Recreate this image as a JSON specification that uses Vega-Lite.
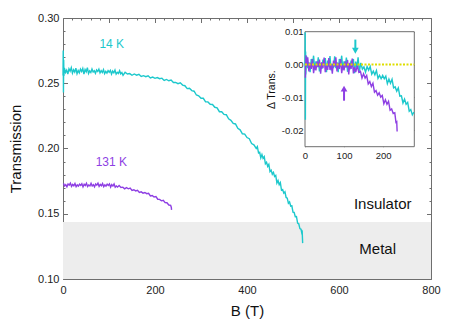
{
"$schema": "https://vega.github.io/schema/vega-lite/v6.json",
"width": 368, "height": 261,
"autosize": "none",
"padding": {"left": 63, "top": 18, "right": 32, "bottom": 46},
"background": "white",
"config": {
  "font": "Liberation Sans",
  "view": {"stroke": "#6e6e6e", "strokeWidth": 1},
  "axis": {"domain": false, "grid": false, "tickColor": "#6e6e6e", "tickWidth": 1, "labelColor": "#222222", "labelFontSize": 11, "titleFontSize": 15, "titleFontWeight": "normal", "titleColor": "#111111", "labelFlush": false, "labelOverlap": false}
},
"datasets": {
  "c14": [
    {"b":0,"t":0.256},{"b":0.5,"t":0.275},{"b":1,"t":0.243},{"b":1.5,"t":0.268},{"b":2,"t":0.2555},
    {"b":3,"t":0.2618},{"b":5.5,"t":0.2583},{"b":8,"t":0.26},{"b":10.5,"t":0.257},{"b":13,"t":0.261},{"b":15.5,"t":0.2593},{"b":18,"t":0.262},{"b":20.5,"t":0.2578},{"b":23,"t":0.2603},{"b":25.5,"t":0.2585},{"b":28,"t":0.2615},{"b":30.5,"t":0.2573},{"b":33,"t":0.2598},{"b":35.5,"t":0.258},{"b":38,"t":0.2608},{"b":40.5,"t":0.259},{"b":43,"t":0.2613},{"b":45.5,"t":0.257},{"b":48,"t":0.2605},{"b":50.5,"t":0.2588},{"b":53,"t":0.2619},{"b":55.5,"t":0.2575},{"b":58,"t":0.2595},{"b":60.5,"t":0.2583},
    {"b":63,"t":0.2609},{"b":65.5,"t":0.2586},{"b":68,"t":0.2596},{"b":70.5,"t":0.2576},{"b":73,"t":0.2602},{"b":75.5,"t":0.259},{"b":78,"t":0.2608},{"b":80.5,"t":0.2579},{"b":83,"t":0.2596},{"b":85.5,"t":0.2583},{"b":88,"t":0.2604},{"b":90.5,"t":0.2574},{"b":93,"t":0.2591},{"b":95.5,"t":0.2578},{"b":98,"t":0.2597},{"b":100.5,"t":0.2585},{"b":103,"t":0.2599},{"b":105.5,"t":0.257},{"b":108,"t":0.2593},{"b":110.5,"t":0.258},{"b":113,"t":0.2601},{"b":115.5,"t":0.257},{"b":118,"t":0.2584},{"b":120.5,"t":0.2575},{"b":123,"t":0.2596},{"b":125.5,"t":0.2572},{"b":128,"t":0.2582},{"b":130.5,"t":0.2561},
    {"b":135,"t":0.2584},{"b":140,"t":0.2571},{"b":145,"t":0.2574},{"b":150,"t":0.2561},{"b":155,"t":0.2571},{"b":160,"t":0.2562},{"b":165,"t":0.2569},{"b":170,"t":0.2552},{"b":175,"t":0.2558},{"b":180,"t":0.255},{"b":185,"t":0.2557},{"b":190,"t":0.2541},{"b":195,"t":0.2547},{"b":200,"t":0.2538},{"b":205,"t":0.2544},{"b":210,"t":0.2535},{"b":215,"t":0.2539},{"b":220,"t":0.2522},{"b":225,"t":0.2529},{"b":230,"t":0.2519},{"b":235,"t":0.2525},{"b":240,"t":0.2506},{"b":245,"t":0.2507},{"b":250,"t":0.2497},{"b":255,"t":0.2503},{"b":260,"t":0.2486},{"b":265,"t":0.2481},{"b":270,"t":0.2459},{"b":275,"t":0.2461},{"b":280,"t":0.2444},{"b":285,"t":0.2439},{"b":290,"t":0.241},{"b":295,"t":0.2404},{"b":300,"t":0.2385},
    {"b":305,"t":0.2385},{"b":310,"t":0.2358},{"b":315,"t":0.2357},{"b":320,"t":0.2339},{"b":325,"t":0.2337},{"b":330,"t":0.2316},{"b":335,"t":0.2312},{"b":340,"t":0.2282},{"b":345,"t":0.2282},{"b":350,"t":0.2261},{"b":355,"t":0.2259},{"b":360,"t":0.2227},{"b":365,"t":0.2216},{"b":370,"t":0.2193},{"b":375,"t":0.2188},{"b":380,"t":0.2155},{"b":385,"t":0.2143},{"b":390,"t":0.2113},{"b":395,"t":0.211},{"b":400,"t":0.2084},{"b":405,"t":0.2075},{"b":410,"t":0.2038},{"b":415,"t":0.2028},{"b":420,"t":0.2001},
    {"b":422.5,"t":0.2015},{"b":425,"t":0.1967},{"b":427.5,"t":0.1971},{"b":430,"t":0.1928},{"b":432.5,"t":0.1954},{"b":435,"t":0.1924},{"b":437.5,"t":0.1938},{"b":440,"t":0.1883},{"b":442.5,"t":0.1894},{"b":445,"t":0.1863},{"b":447.5,"t":0.1879},{"b":450,"t":0.1823},{"b":452.5,"t":0.1834},{"b":455,"t":0.1803},{"b":457.5,"t":0.1817},{"b":460,"t":0.1785},{"b":462.5,"t":0.1793},{"b":465,"t":0.1735},{"b":467.5,"t":0.1755},{"b":470,"t":0.1723},{"b":472.5,"t":0.1739},{"b":475,"t":0.168},{"b":477.5,"t":0.1685},{"b":480,"t":0.1658},{"b":482.5,"t":0.1668},{"b":485,"t":0.1625},{"b":487.5,"t":0.162},{"b":490,"t":0.158},{"b":492.5,"t":0.159},{"b":495,"t":0.1559},{"b":497.5,"t":0.1561},{"b":500,"t":0.1512},{"b":502.5,"t":0.151},{"b":505,"t":0.1478},{"b":507.5,"t":0.1479},{"b":510,"t":0.1429},{"b":512.5,"t":0.1423},{"b":515,"t":0.1386},{"b":517.5,"t":0.1381},{"b":519,"t":0.1354},{"b":520,"t":0.136},{"b":521,"t":0.1275}
  ],
  "c131": [
    {"b":1,"t":0.1733},{"b":3.5,"t":0.1713},{"b":6,"t":0.1723},{"b":8.5,"t":0.1706},{"b":11,"t":0.1728},{"b":13.5,"t":0.1719},{"b":16,"t":0.1734},{"b":18.5,"t":0.171},{"b":21,"t":0.1724},{"b":23.5,"t":0.1714},{"b":26,"t":0.1731},{"b":28.5,"t":0.1707},{"b":31,"t":0.1721},{"b":33.5,"t":0.1712},{"b":36,"t":0.1727},{"b":38.5,"t":0.1717},{"b":41,"t":0.173},{"b":43.5,"t":0.1706},{"b":46,"t":0.1726},{"b":48.5,"t":0.1716},{"b":51,"t":0.1733},{"b":53.5,"t":0.1709},{"b":56,"t":0.172},{"b":58.5,"t":0.1713},{"b":61,"t":0.1733},{"b":63.5,"t":0.1713},{"b":66,"t":0.1723},{"b":68.5,"t":0.1706},{"b":71,"t":0.1728},{"b":73.5,"t":0.1719},{"b":76,"t":0.1734},{"b":78.5,"t":0.171},{"b":81,"t":0.1724},{"b":83.5,"t":0.1714},{"b":86,"t":0.1731},{"b":88.5,"t":0.1707},{"b":91,"t":0.1721},{"b":93.5,"t":0.1712},{"b":96,"t":0.1727},{"b":98.5,"t":0.1717},{"b":101,"t":0.1729},{"b":103.5,"t":0.1704},{"b":106,"t":0.1723},{"b":108.5,"t":0.1712},{"b":111,"t":0.1728},{"b":113.5,"t":0.1703},{"b":116,"t":0.1712},{"b":118.5,"t":0.1704},
    {"b":122,"t":0.1716},{"b":126,"t":0.1702},{"b":130,"t":0.1704},{"b":134,"t":0.1691},{"b":138,"t":0.17},{"b":142,"t":0.1691},{"b":146,"t":0.1696},{"b":150,"t":0.1679},{"b":154,"t":0.1684},{"b":158,"t":0.1675},{"b":162,"t":0.168},{"b":166,"t":0.1663},{"b":170,"t":0.1668},{"b":174,"t":0.1658},{"b":178,"t":0.1663},{"b":182,"t":0.1654},{"b":186,"t":0.1657},{"b":190,"t":0.1636},{"b":194,"t":0.164},{"b":198,"t":0.1628},{"b":202,"t":0.1631},{"b":206,"t":0.1611},{"b":210,"t":0.161},{"b":214,"t":0.1599},{"b":218,"t":0.1603},{"b":222,"t":0.1585},{"b":226,"t":0.1584},{"b":230,"t":0.1567},{"b":234,"t":0.1565},{"b":235.5,"t":0.1548},{"b":236,"t":0.153}
  ],
  "i14": [
    {"d":0,"v":0},{"d":0.5,"v":0.0098},{"d":1,"v":-0.0168},{"d":1.5,"v":0.004},{"d":2,"v":-0.003},
    {"d":4,"v":0.0025},{"d":7,"v":-0.0011},{"d":10,"v":0.0007},{"d":13,"v":-0.0023},{"d":16,"v":0.0017},{"d":19,"v":-0.0001},{"d":22,"v":0.0027},{"d":25,"v":-0.0016},{"d":28,"v":0.001},{"d":31,"v":-0.0008},{"d":34,"v":0.0022},{"d":37,"v":-0.0021},{"d":40,"v":0.0005},{"d":43,"v":-0.0013},{"d":46,"v":0.0015},{"d":49,"v":-0.0003},{"d":52,"v":0.002},{"d":55,"v":-0.0023},{"d":58,"v":0.0012},{"d":61,"v":-0.0006},{"d":64,"v":0.0026},{"d":67,"v":-0.0018},{"d":70,"v":0.0002},{"d":73,"v":-0.0011},{"d":76,"v":0.0025},{"d":79,"v":-0.0011},{"d":82,"v":0.0007},{"d":85,"v":-0.0023},{"d":88,"v":0.0017},{"d":91,"v":-0.0001},{"d":94,"v":0.0027},{"d":97,"v":-0.0016},{"d":100,"v":0.001},{"d":103,"v":-0.0009},{"d":106,"v":0.0021},{"d":109,"v":-0.0022},{"d":112,"v":0.0003},{"d":115,"v":-0.0015},{"d":118,"v":0.0012},{"d":121,"v":-0.0006},{"d":124,"v":0.0017},{"d":127,"v":-0.0026},{"d":130,"v":0.0009},{"d":133,"v":-0.0009},{"d":136,"v":0.0022},{"d":139,"v":-0.0022},
    {"d":143,"v":0.0005},{"d":147,"v":-0.0014},{"d":151,"v":-0.0007},{"d":155,"v":-0.0023},{"d":159,"v":-0.0006},{"d":163,"v":-0.0017},{"d":167,"v":-0.0006},{"d":171,"v":-0.0029},{"d":175,"v":-0.002},{"d":179,"v":-0.0031},{"d":183,"v":-0.0018},{"d":187,"v":-0.0042},{"d":191,"v":-0.0033},{"d":195,"v":-0.0043},{"d":199,"v":-0.0033},{"d":203,"v":-0.0043},{"d":207,"v":-0.0035},{"d":211,"v":-0.0058},{"d":215,"v":-0.0044},{"d":219,"v":-0.0057},{"d":223,"v":-0.0045},{"d":227,"v":-0.0071},{"d":231,"v":-0.0068},{"d":235,"v":-0.0081},{"d":239,"v":-0.0071},{"d":243,"v":-0.0096},{"d":247,"v":-0.0095},{"d":251,"v":-0.0117},{"d":255,"v":-0.0105},{"d":259,"v":-0.0121},{"d":263,"v":-0.0115},{"d":267,"v":-0.0142},{"d":271,"v":-0.0137},{"d":275,"v":-0.0153},{"d":279,"v":-0.0145}
  ],
  "i131": [
    {"d":1,"v":-0.004},{"d":2.5,"v":0.0028},{"d":4,"v":-0.0006},{"d":7,"v":0.0022},{"d":10,"v":-0.0021},{"d":13,"v":0.0005},{"d":16,"v":-0.0013},{"d":19,"v":0.0017},{"d":22,"v":-0.0026},{"d":25,"v":-0.0001},{"d":28,"v":-0.0018},{"d":31,"v":0.001},{"d":34,"v":-0.0008},{"d":37,"v":0.0015},{"d":40,"v":-0.0028},{"d":43,"v":0.0007},{"d":46,"v":-0.0011},{"d":49,"v":0.0021},{"d":52,"v":-0.0023},{"d":55,"v":-0.0003},{"d":58,"v":-0.0016},{"d":61,"v":0.002},{"d":64,"v":-0.0016},{"d":67,"v":0.0002},{"d":70,"v":-0.0028},{"d":73,"v":0.0012},{"d":76,"v":-0.0006},{"d":79,"v":0.0022},{"d":82,"v":-0.0021},{"d":85,"v":0.0005},{"d":88,"v":-0.0013},{"d":91,"v":0.0017},{"d":94,"v":-0.0026},{"d":97,"v":-0.0001},{"d":100,"v":-0.0018},{"d":103,"v":0.001},{"d":106,"v":-0.0009},{"d":109,"v":0.0014},{"d":112,"v":-0.003},{"d":115,"v":0.0005},{"d":118,"v":-0.0013},{"d":121,"v":0.0018},{"d":124,"v":-0.0027},{"d":127,"v":-0.0008},{"d":130,"v":-0.0023},
    {"d":134,"v":-0.0003},{"d":138,"v":-0.0024},{"d":142,"v":-0.0021},{"d":146,"v":-0.0041},{"d":150,"v":-0.0028},{"d":154,"v":-0.0041},{"d":158,"v":-0.0033},{"d":162,"v":-0.0059},{"d":166,"v":-0.0052},{"d":170,"v":-0.0067},{"d":174,"v":-0.0057},{"d":178,"v":-0.0084},{"d":182,"v":-0.0079},{"d":186,"v":-0.0093},{"d":190,"v":-0.0086},{"d":194,"v":-0.0099},{"d":198,"v":-0.0094},{"d":202,"v":-0.0119},{"d":206,"v":-0.0107},{"d":210,"v":-0.0121},{"d":214,"v":-0.0112},{"d":218,"v":-0.0139},{"d":222,"v":-0.0135},{"d":226,"v":-0.0149},{"d":230,"v":-0.0147},{"d":233,"v":-0.0176},{"d":235,"v":-0.0174},{"d":236,"v":-0.0204}
  ],
  "arrows": [
    {"s":"14 K","d":129,"tail":0.0076,"head":0.0042},
    {"s":"131 K","d":100,"tail":-0.011,"head":-0.0073}
  ]
},
"layer": [
  {
    "layer": [
      {
        "data": {"values": [{"b0":0,"b1":800,"t0":0.1,"t1":0.1437}]},
        "mark": {"type":"rect","color":"#ededed"},
        "encoding": {
          "x": {"field":"b0","type":"quantitative","scale":{"domain":[0,800],"nice":false,"zero":false},
                "axis":{"orient":"bottom","values":[0,100,200,300,400,500,600,700,800],"labelExpr":"datum.value % 200 === 0 ? datum.label : ''","tickSize":-4.5,"labelPadding":9.5,"title":"B (T)","titlePadding":8}},
          "x2": {"field":"b1"},
          "y": {"field":"t0","type":"quantitative","scale":{"domain":[0.1,0.3],"nice":false,"zero":false},
                "axis":{"orient":"left","values":[0.1,0.15,0.2,0.25,0.3],"format":".2f","tickSize":-4.5,"labelPadding":8.5,"title":"Transmission","titlePadding":14}},
          "y2": {"field":"t1"}
        }
      },
      {
        "data": {"name":"c14"},
        "mark": {"type":"line","color":"#1cc8cc","strokeWidth":1.4},
        "encoding": {
          "x": {"field":"b","type":"quantitative","axis":{"orient":"bottom","values":[20,40,60,80,120,140,160,180,220,240,260,280,320,340,360,380,420,440,460,480,520,540,560,580,620,640,660,680,720,740,760,780],"labels":false,"tickSize":-2,"title":null}},
          "y": {"field":"t","type":"quantitative","axis":{"orient":"left","values":[0.11,0.12,0.13,0.14,0.16,0.17,0.18,0.19,0.21,0.22,0.23,0.24,0.26,0.27,0.28,0.29],"labels":false,"tickSize":-2,"title":null}}
        }
      },
      {
        "data": {"name":"c131"},
        "mark": {"type":"line","color":"#8e3fe3","strokeWidth":1.4},
        "encoding": {
          "x": {"field":"b","type":"quantitative","axis":{"orient":"top","values":[0,100,200,300,400,500,600,700,800],"labels":false,"tickSize":-4.5,"title":null}},
          "y": {"field":"t","type":"quantitative","axis":{"orient":"right","values":[0.1,0.15,0.2,0.25,0.3],"labels":false,"tickSize":-4.5,"title":null}}
        }
      },
      {
        "data": {"values": [{"b":106,"t":0.2797,"txt":"14 K"},{"b":105,"t":0.1897,"txt":"131 K"}]},
        "mark": {"type":"text","fontSize":12,"align":"center","baseline":"middle"},
        "encoding": {
          "x": {"field":"b","type":"quantitative","axis":{"orient":"top","values":[20,40,60,80,120,140,160,180,220,240,260,280,320,340,360,380,420,440,460,480,520,540,560,580,620,640,660,680,720,740,760,780],"labels":false,"tickSize":-2,"title":null}},
          "y": {"field":"t","type":"quantitative","axis":{"orient":"right","values":[0.11,0.12,0.13,0.14,0.16,0.17,0.18,0.19,0.21,0.22,0.23,0.24,0.26,0.27,0.28,0.29],"labels":false,"tickSize":-2,"title":null}},
          "text": {"field":"txt"},
          "color": {"field":"txt","type":"nominal","scale":{"domain":["14 K","131 K"],"range":["#1cc8cc","#8e3fe3"]},"legend":null}
        }
      },
      {
        "data": {"values": [{"b":695,"t":0.1571,"txt":"Insulator"},{"b":684,"t":0.1231,"txt":"Metal"}]},
        "mark": {"type":"text","fontSize":15,"align":"center","baseline":"middle","color":"#111111"},
        "encoding": {
          "x": {"field":"b","type":"quantitative","axis":null},
          "y": {"field":"t","type":"quantitative","axis":null},
          "text": {"field":"txt"}
        }
      }
    ],
    "resolve": {"axis": {"x":"independent","y":"independent"}}
  },
  {
    "layer": [
      {
        "data": {"values": [{"d0":0,"d1":280,"v0":-0.025,"v1":0.01}]},
        "mark": {"type":"rect","fill":"white","stroke":"#6e6e6e","strokeWidth":1},
        "encoding": {
          "x": {"field":"d0","type":"quantitative","scale":{"domain":[0,280],"range":[242,351.3],"nice":false,"zero":false},
                "axis":{"orient":"bottom","offset":-132.3,"values":[0,100,200],"tickSize":-4,"labelPadding":8,"labelFontSize":9.5,"title":null}},
          "x2": {"field":"d1"},
          "y": {"field":"v0","type":"quantitative","scale":{"domain":[-0.025,0.01],"range":[128.7,13.7],"nice":false,"zero":false},
                "axis":{"orient":"left","offset":-242,"values":[0.01,0,-0.01,-0.02],"labelExpr":"datum.value < 0 ? '-' + format(-datum.value, '.2f') : format(datum.value, '.2f')","tickSize":-4,"labelPadding":6,"labelFontSize":9.5,"title":"Δ Trans.","titleFontSize":10.5,"titlePadding":5}},
          "y2": {"field":"v1"}
        }
      },
      {
        "data": {"name":"i14"},
        "mark": {"type":"line","color":"#1cc8cc","strokeWidth":1.4},
        "encoding": {
          "x": {"field":"d","type":"quantitative","axis":{"orient":"top","offset":-13.7,"values":[100,200],"labels":false,"tickSize":-4,"title":null}},
          "y": {"field":"v","type":"quantitative","axis":{"orient":"right","offset":-16.7,"values":[0.01,0,-0.01,-0.02],"labels":false,"tickSize":-4,"title":null}}
        }
      },
      {
        "data": {"name":"i131"},
        "mark": {"type":"line","color":"#8e3fe3","strokeWidth":1.4},
        "encoding": {
          "x": {"field":"d","type":"quantitative","axis":null},
          "y": {"field":"v","type":"quantitative","axis":null}
        }
      },
      {
        "data": {"values": [{"d0":0,"d1":280,"v":0}]},
        "mark": {"type":"rule","color":"#dede00","strokeWidth":2,"strokeDash":[2,1.5]},
        "encoding": {
          "x": {"field":"d0","type":"quantitative","axis":null},
          "x2": {"field":"d1"},
          "y": {"field":"v","type":"quantitative","axis":null}
        }
      },
      {
        "data": {"name":"arrows"},
        "mark": {"type":"rule","strokeWidth":2},
        "encoding": {
          "x": {"field":"d","type":"quantitative","axis":null},
          "y": {"field":"tail","type":"quantitative","axis":null},
          "y2": {"field":"head"},
          "color": {"field":"s","type":"nominal","scale":{"domain":["14 K","131 K"],"range":["#1cc8cc","#8e3fe3"]},"legend":null}
        }
      },
      {
        "data": {"name":"arrows"},
        "mark": {"type":"point","filled":true,"opacity":1,"size":45},
        "encoding": {
          "x": {"field":"d","type":"quantitative","axis":null},
          "y": {"field":"head","type":"quantitative","axis":null},
          "color": {"field":"s","type":"nominal","scale":{"domain":["14 K","131 K"],"range":["#1cc8cc","#8e3fe3"]},"legend":null},
          "shape": {"field":"s","type":"nominal","scale":{"domain":["14 K","131 K"],"range":["triangle-down","triangle-up"]},"legend":null}
        }
      }
    ],
    "resolve": {"axis": {"x":"independent","y":"independent"}}
  }
],
"resolve": {"scale": {"x":"independent","y":"independent"}}
}
